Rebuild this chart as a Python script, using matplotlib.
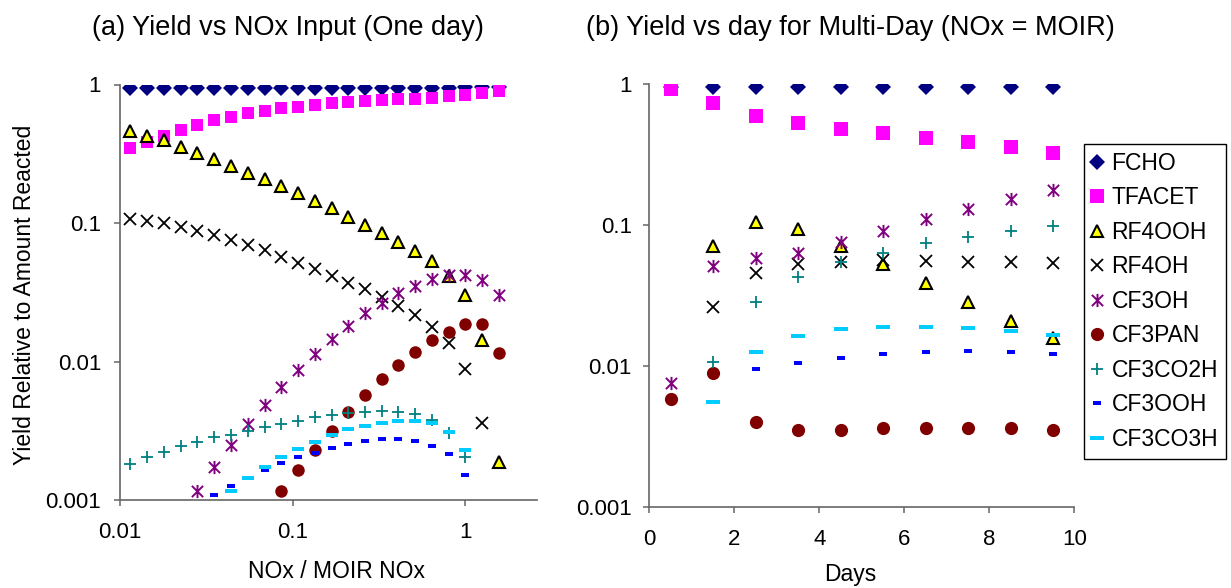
import numpy as np
import matplotlib
matplotlib.use('Agg')
import matplotlib.pyplot as plt
from matplotlib.path import Path
from matplotlib.ticker import FixedLocator, FixedFormatter, NullLocator

plt.rcParams['font.family'] = ['Liberation Sans', 'DejaVu Sans']

nan = np.nan
names = ['FCHO', 'TFACET', 'RF4OOH', 'RF4OH', 'CF3OH', 'CF3PAN', 'CF3CO2H', 'CF3OOH', 'CF3CO3H']

# (a) one day, yield vs NOx / MOIR NOx
nox_ratio = [0.0115, 0.0144, 0.018, 0.0225, 0.0281, 0.0352, 0.044, 0.055, 0.0687, 0.0859,
             0.107, 0.134, 0.168, 0.21, 0.262, 0.328, 0.41, 0.512, 0.64, 0.8, 1.0, 1.25, 1.5625]
a_fcho = [0.95, 0.95, 0.95, 0.95, 0.95, 0.95, 0.95, 0.95, 0.95, 0.95, 0.95, 0.95,
          0.95, 0.95, 0.95, 0.95, 0.95, 0.95, 0.95, 0.95, 0.955, 0.955, 0.96]
a_tfacet = [0.346, 0.386, 0.425, 0.469, 0.510, 0.554, 0.586, 0.620, 0.647, 0.673, 0.692, 0.711,
            0.731, 0.748, 0.764, 0.773, 0.782, 0.789, 0.803, 0.826, 0.840, 0.864, 0.902]
a_rf4ooh = [0.464, 0.425, 0.397, 0.356, 0.319, 0.288, 0.258, 0.231, 0.207, 0.185, 0.164, 0.145,
            0.128, 0.111, 0.0967, 0.0851, 0.0733, 0.0631, 0.0535, 0.0414, 0.0302, 0.0143, 0.00187]
a_rf4oh = [0.106, 0.103, 0.0995, 0.094, 0.0875, 0.0819, 0.0753, 0.0693, 0.0638, 0.0571, 0.0517, 0.0463,
           0.0414, 0.0371, 0.0332, 0.0294, 0.0252, 0.0217, 0.0177, 0.0137, 0.00883, 0.00358, nan]
a_cf3oh = [nan, nan, nan, nan, 0.00117, 0.00174, 0.00249, 0.00354, 0.00485, 0.00651, 0.00869, 0.0113,
           0.0145, 0.0181, 0.0223, 0.0263, 0.0311, 0.0351, 0.0392, 0.0421, 0.0421, 0.0388, 0.0302]
a_cf3pan = [nan, nan, nan, nan, nan, nan, nan, nan, nan, 0.00117, 0.00165, 0.00230,
            0.00316, 0.00434, 0.00573, 0.00743, 0.00943, 0.01165, 0.0143, 0.0164, 0.0186, 0.0186, 0.0116]
a_cf3co2h = [0.00182, 0.00203, 0.00221, 0.00245, 0.00264, 0.00284, 0.00295, 0.00317, 0.00338, 0.00354,
             0.00374, 0.00396, 0.00411, 0.00423, 0.00434, 0.00439, 0.00434, 0.00418, 0.00378, 0.00306,
             0.00203, nan, nan]
a_cf3ooh = [nan, nan, nan, nan, nan, 0.00109, 0.00126, 0.00143, 0.00165, 0.00184, 0.00203, 0.00220,
            0.00236, 0.00254, 0.00267, 0.00274, 0.00274, 0.00267, 0.00247, 0.00214, 0.00152, nan, nan]
a_cf3co3h = [nan, nan, nan, nan, nan, nan, 0.00117, 0.00143, 0.00172, 0.00203, 0.00232, 0.00264,
             0.00295, 0.00324, 0.00344, 0.00361, 0.00374, 0.00374, 0.00358, 0.00308, 0.00230, nan, nan]

# (b) multi-day at MOIR NOx
days = [0.5, 1.5, 2.5, 3.5, 4.5, 5.5, 6.5, 7.5, 8.5, 9.5]
b_fcho = [0.95, 0.95, 0.95, 0.95, 0.95, 0.95, 0.95, 0.95, 0.95, 0.95]
b_tfacet = [0.926, 0.741, 0.599, 0.529, 0.484, 0.449, 0.418, 0.388, 0.357, 0.327]
b_rf4ooh = [nan, 0.0717, 0.105, 0.0937, 0.0713, 0.0529, 0.0388, 0.0284, 0.0211, 0.0158]
b_rf4oh = [nan, 0.0265, 0.0457, 0.0532, 0.0552, 0.0568, 0.0558, 0.0552, 0.0547, 0.0538]
b_cf3oh = [0.00757, 0.0515, 0.0583, 0.0639, 0.0758, 0.0911, 0.110, 0.131, 0.154, 0.178]
b_cf3pan = [0.00583, 0.00892, 0.00405, 0.00353, 0.00353, 0.00363, 0.00367, 0.00367, 0.00363, 0.00353]
b_cf3co2h = [nan, 0.0108, 0.0287, 0.0432, 0.0547, 0.0639, 0.0745, 0.0830, 0.0911, 0.0993]
b_cf3ooh = [nan, nan, 0.00952, 0.0105, 0.0115, 0.0122, 0.0127, 0.0128, 0.0127, 0.0122]
b_cf3co3h = [nan, 0.00561, 0.0126, 0.0164, 0.0183, 0.0191, 0.0191, 0.0186, 0.0178, 0.0167]

series_a = [a_fcho, a_tfacet, a_rf4ooh, a_rf4oh, a_cf3oh, a_cf3pan, a_cf3co2h, a_cf3ooh, a_cf3co3h]
series_b = [b_fcho, b_tfacet, b_rf4ooh, b_rf4oh, b_cf3oh, b_cf3pan, b_cf3co2h, b_cf3ooh, b_cf3co3h]

# excel-like markers
M, L, C = Path.MOVETO, Path.LINETO, Path.CLOSEPOLY
star = Path([(0, -1), (0, 1), (-0.85, -0.85), (0.85, 0.85), (-0.85, 0.85), (0.85, -0.85)],
            [M, L, M, L, M, L])
dash = Path([(-1, -0.45), (1, -0.45), (1, 0.45), (-1, 0.45), (-1, -0.45)], [M, L, L, L, C])
dash_long = Path([(-1, -0.33), (1, -0.33), (1, 0.33), (-1, 0.33), (-1, -0.33)], [M, L, L, L, C])

styles = [
    dict(marker='D', color='#000080', mew=0, ms=8),
    dict(marker='s', color='#FF00FF', mew=0, ms=9),
    dict(marker='^', mfc='#FFFF00', mec='black', mew=1.5, ms=8.5),
    dict(marker='x', color='black', mew=1.3, ms=8.5),
    dict(marker=star, mfc='none', mec='#800080', mew=1.4, ms=9.5),
    dict(marker='o', color='#800000', mew=0, ms=9),
    dict(marker='+', color='#008080', mew=1.3, ms=9),
    dict(marker=dash, color='#0000FF', mew=0, ms=5.5),
    dict(marker=dash_long, color='#00CCFF', mew=0, ms=8),
]
# panel (b) markers are drawn a bit larger in the original
size_b = [8, 10, 9, 8.5, 9.5, 9.5, 9, 6, 10]

fig = plt.figure(figsize=(12.31, 5.88), dpi=100)
ax1 = fig.add_axes([120/1231, 1-500/588, 417/1231, 415.5/588])
ax2 = fig.add_axes([649.3/1231, 1-507.3/588, 425/1231, 423/588])

for y, st in zip(series_a, styles):
    ax1.plot(nox_ratio, y, ls='none', **st)
handles = []
for y, st, ms in zip(series_b, styles, size_b):
    h, = ax2.plot(days, y, ls='none', **{**st, 'ms': ms})
    handles.append(h)

ylab = ['0.001', '0.01', '0.1', '1']
for ax in (ax1, ax2):
    ax.set_yscale('log')
    ax.set_ylim(0.001, 1)
    ax.yaxis.set_major_locator(FixedLocator([0.001, 0.01, 0.1, 1]))
    ax.yaxis.set_major_formatter(FixedFormatter(ylab))
    ax.yaxis.set_minor_locator(NullLocator())
    for s in ('top', 'right'):
        ax.spines[s].set_visible(False)
    for s in ('left', 'bottom'):
        ax.spines[s].set_color('#666666')
        ax.spines[s].set_linewidth(1.2)
    ax.tick_params(direction='out', length=4.5, width=1.1, color='#666666', labelsize=16)
    ax.tick_params(axis='x', pad=11)
    ax.tick_params(axis='y', pad=9)

ax1.set_xscale('log')
ax1.set_xlim(0.01, 2.6)
ax1.xaxis.set_major_locator(FixedLocator([0.01, 0.1, 1]))
ax1.xaxis.set_major_formatter(FixedFormatter(['0.01', '0.1', '1']))
ax1.xaxis.set_minor_locator(NullLocator())

ax2.set_xlim(0, 10)
ax2.set_xticks([0, 2, 4, 6, 8, 10])
ax2.tick_params(axis='y', pad=8)

fig.text(288/1231, 1-28/588, '(a) Yield vs NOx Input (One day)', ha='center', va='center', fontsize=19.5)
fig.text(850/1231, 1-28/588, '(b) Yield vs day for Multi-Day (NOx = MOIR)', ha='center', va='center', fontsize=19.5)
fig.text(25/1231, 1-295/588, 'Yield Relative to Amount Reacted', rotation=90, ha='center', va='center', fontsize=16.5)
fig.text(337/1231, 1-571/588, 'NOx / MOIR NOx', ha='center', va='center', fontsize=16.5)
fig.text(850/1231, 1-575/588, 'Days', ha='center', va='center', fontsize=16.5)

leg = fig.legend(handles, names, loc='upper left', bbox_to_anchor=(1084/1231, 1-144/588),
                 frameon=True, fancybox=False, framealpha=1, edgecolor='black', fontsize=16.5,
                 labelspacing=0.5, handlelength=0.4, handletextpad=0.45, borderpad=0.35,
                 borderaxespad=0)
leg.get_frame().set_linewidth(1.0)

fig.savefig('out.png', dpi=100)
